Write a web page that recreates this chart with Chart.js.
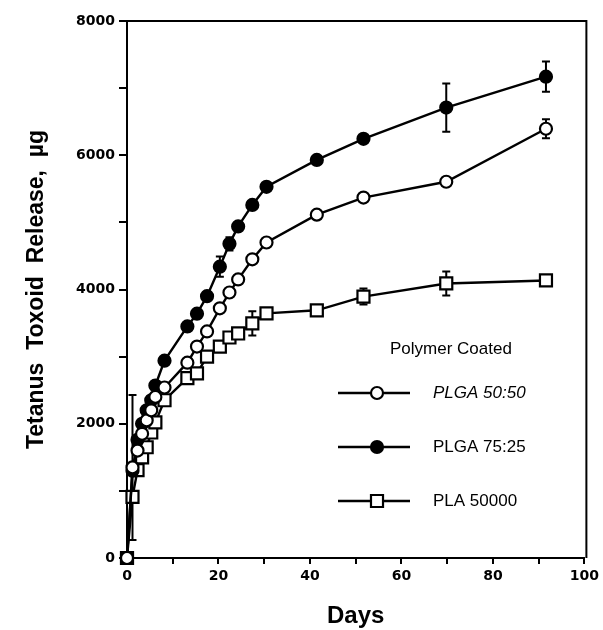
<!DOCTYPE html>
<html><head><meta charset="utf-8">
<script src="https://cdn.jsdelivr.net/npm/chart.js@4/dist/chart.umd.min.js"></script>
<style>html,body{margin:0;padding:0;background:#fff}</style>
</head><body>
<canvas id="c" width="603" height="630"></canvas>
<script>
// ---- data ----
const days      = [0, 1.2, 2.3, 3.3, 4.3, 5.3, 6.2, 8.2, 13.2, 15.3, 17.5, 20.3, 22.4, 24.3, 27.4, 30.5, 41.5, 51.7, 69.8, 91.6];
const plga5050  = [0, 1350, 1600, 1850, 2050, 2200, 2400, 2540, 2910, 3150, 3375, 3720, 3955, 4150, 4450, 4700, 5115, 5370, 5605, 6395];
const plga7525  = [0, 1300, 1760, 2000, 2200, 2350, 2570, 2940, 3450, 3640, 3900, 4340, 4680, 4940, 5260, 5530, 5930, 6245, 6710, 7170];
const pla50000  = [0, 910, 1310, 1500, 1650, 1870, 2020, 2350, 2680, 2750, 3000, 3150, 3285, 3345, 3495, 3645, 3690, 3895, 4090, 4135];
const err5050   = [0, 1080, 0, 0, 0, 0, 0, 0, 0, 0, 0, 0, 0, 0, 0, 0, 0, 0, 0, 140];
const err7525   = [0, 0, 0, 0, 0, 0, 0, 0, 0, 0, 0, 150, 100, 0, 0, 0, 0, 0, 360, 225];
const errPla    = [0, 0, 0, 0, 0, 0, 0, 0, 0, 0, 0, 0, 0, 0, 180, 0, 0, 120, 180, 0];
const seriesNames = ['PLGA 50:50', 'PLGA 75:25', 'PLA 50000'];
const legendTitle = 'Polymer Coated';
const xTitle = 'Days';
const yTitle = 'Tetanus  Toxoid  Release,  µg';

const pts = (ys) => days.map((d, i) => ({x: d, y: ys[i]}));

const styles = [
  {pointStyle: 'circle', radius: 6, fill: '#fff'},
  {pointStyle: 'circle', radius: 6, fill: '#000'},
  {pointStyle: 'rect', radius: 8.5, fill: '#fff'}
];

function mkDs(name, ys, errs, st) {
  return {
    label: name, data: pts(ys), errors: errs,
    borderColor: '#000', borderWidth: 2.4,
    pointStyle: st.pointStyle, pointRadius: st.radius,
    pointBackgroundColor: st.fill, pointBorderColor: '#000', pointBorderWidth: 2.2,
    showLine: true, tension: 0, clip: false
  };
}

const errorBars = {
  id: 'errorBars',
  beforeDatasetsDraw(chart) {
    const ctx = chart.ctx, ys = chart.scales.y, xs = chart.scales.x;
    ctx.save();
    ctx.strokeStyle = '#000'; ctx.lineWidth = 2;
    chart.data.datasets.forEach(ds => {
      ds.data.forEach((p, i) => {
        const e = ds.errors[i];
        if (!e) return;
        const px = xs.getPixelForValue(p.x);
        const y1 = ys.getPixelForValue(p.y + e), y2 = ys.getPixelForValue(p.y - e);
        ctx.beginPath();
        ctx.moveTo(px, y1); ctx.lineTo(px, y2);
        ctx.moveTo(px - 4, y1); ctx.lineTo(px + 4, y1);
        ctx.moveTo(px - 4, y2); ctx.lineTo(px + 4, y2);
        ctx.stroke();
      });
    });
    ctx.restore();
  }
};

const frameAndLegend = {
  id: 'frameAndLegend',
  afterDraw(chart) {
    const ctx = chart.ctx, a = chart.chartArea;
    ctx.save();
    ctx.strokeStyle = '#000'; ctx.lineWidth = 2;
    ctx.beginPath();
    ctx.moveTo(a.left, a.top); ctx.lineTo(a.right + 2, a.top); ctx.lineTo(a.right + 2, a.bottom);
    ctx.stroke();
    // legend
    ctx.fillStyle = '#000';
    ctx.textBaseline = 'middle';
    ctx.textAlign = 'left';
    ctx.font = '17px "Liberation Sans", Arial, sans-serif';
    ctx.fillText(legendTitle, 390, 349);
    const rows = [393, 447, 501];
    seriesNames.forEach((name, i) => {
      const y = rows[i];
      ctx.lineWidth = 2.4;
      ctx.beginPath(); ctx.moveTo(338, y); ctx.lineTo(410, y); ctx.stroke();
      const st = styles[i];
      ctx.lineWidth = 2.2;
      ctx.beginPath();
      if (st.pointStyle === 'circle') ctx.arc(377, y, st.radius, 0, Math.PI * 2);
      else { const s = st.radius * Math.SQRT1_2; ctx.rect(377 - s, y - s, 2 * s, 2 * s); }
      ctx.fillStyle = st.fill; ctx.fill(); ctx.stroke();
      ctx.fillStyle = '#000';
      ctx.font = (i === 0 ? 'italic ' : '') + '17px "Liberation Sans", Arial, sans-serif';
      ctx.fillText(name, 433, y);
    });
    ctx.restore();
  }
};

new Chart(document.getElementById('c'), {
  type: 'scatter',
  data: { datasets: [
    mkDs(seriesNames[0], plga5050, err5050, styles[0]),
    mkDs(seriesNames[1], plga7525, err7525, styles[1]),
    mkDs(seriesNames[2], pla50000, errPla, styles[2])
  ]},
  options: {
    responsive: false, animation: false,
    layout: { padding: { top: 21, right: 14, left: 0, bottom: 0 } },
    plugins: { legend: { display: false }, tooltip: { enabled: false } },
    scales: {
      x: {
        type: 'linear', min: 0, max: 100,
        afterFit(s) { s.height = 72; },
        ticks: { stepSize: 10, autoSkip: false, maxRotation: 0, padding: 4, color: '#000',
          font: { family: '"DejaVu Sans", sans-serif', weight: 'bold', size: 14 },
          callback: v => (v % 20 === 0 ? String(v) : '') },
        grid: { display: true, drawOnChartArea: false, drawTicks: true, tickLength: 6, color: '#000', lineWidth: 2 },
        border: { display: true, color: '#000', width: 2 },
        title: { display: true, text: xTitle, color: '#000', padding: { top: 0, bottom: 2 },
          font: { family: '"Liberation Sans", Arial, sans-serif', weight: 'bold', size: 24, lineHeight: 1 } }
      },
      y: {
        type: 'linear', min: 0, max: 8000,
        afterFit(s) { s.width = 127; },
        ticks: { stepSize: 1000, autoSkip: false, padding: 4, color: '#000',
          font: { family: '"DejaVu Sans", sans-serif', weight: 'bold', size: 14 },
          callback: v => (v % 2000 === 0 ? String(v) : '') },
        grid: { display: true, drawOnChartArea: false, drawTicks: true, tickLength: 8, color: '#000', lineWidth: 2 },
        border: { display: true, color: '#000', width: 2 },
        title: { display: true, text: yTitle, color: '#000', padding: { top: 23, bottom: 0 },
          font: { family: '"Liberation Sans", Arial, sans-serif', weight: 'bold', size: 23, lineHeight: 1.2 } }
      }
    }
  },
  plugins: [errorBars, frameAndLegend]
});
</script>
</body></html>
